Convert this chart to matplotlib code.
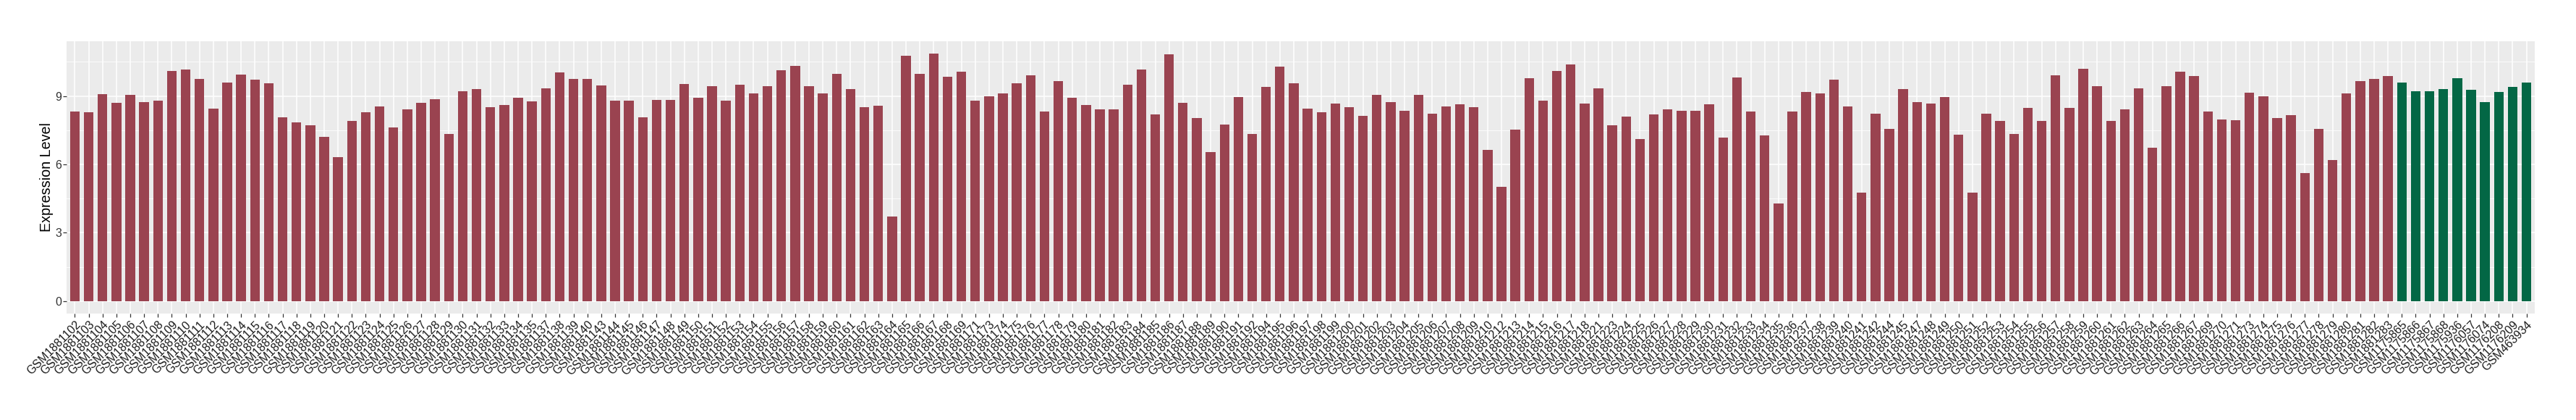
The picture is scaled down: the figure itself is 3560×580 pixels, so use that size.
import matplotlib
matplotlib.use("Agg")
import matplotlib.pyplot as plt
from matplotlib.ticker import MultipleLocator
from matplotlib.transforms import ScaledTranslation

plt.rcParams["font.family"] = ["Liberation Sans", "DejaVu Sans"]

samples = [
    "GSM1881102", "GSM1881103", "GSM1881104", "GSM1881105", "GSM1881106", "GSM1881107",
    "GSM1881108", "GSM1881109", "GSM1881110", "GSM1881111", "GSM1881112", "GSM1881113",
    "GSM1881114", "GSM1881115", "GSM1881116", "GSM1881117", "GSM1881118", "GSM1881119",
    "GSM1881120", "GSM1881121", "GSM1881122", "GSM1881123", "GSM1881124", "GSM1881125",
    "GSM1881126", "GSM1881127", "GSM1881128", "GSM1881129", "GSM1881130", "GSM1881131",
    "GSM1881132", "GSM1881133", "GSM1881134", "GSM1881135", "GSM1881137", "GSM1881138",
    "GSM1881139", "GSM1881140", "GSM1881143", "GSM1881144", "GSM1881145", "GSM1881146",
    "GSM1881147", "GSM1881148", "GSM1881149", "GSM1881150", "GSM1881151", "GSM1881152",
    "GSM1881153", "GSM1881154", "GSM1881155", "GSM1881156", "GSM1881157", "GSM1881158",
    "GSM1881159", "GSM1881160", "GSM1881161", "GSM1881162", "GSM1881163", "GSM1881164",
    "GSM1881165", "GSM1881166", "GSM1881167", "GSM1881168", "GSM1881169", "GSM1881171",
    "GSM1881173", "GSM1881174", "GSM1881175", "GSM1881176", "GSM1881177", "GSM1881178",
    "GSM1881179", "GSM1881180", "GSM1881181", "GSM1881182", "GSM1881183", "GSM1881184",
    "GSM1881185", "GSM1881186", "GSM1881187", "GSM1881188", "GSM1881189", "GSM1881190",
    "GSM1881191", "GSM1881192", "GSM1881194", "GSM1881195", "GSM1881196", "GSM1881197",
    "GSM1881198", "GSM1881199", "GSM1881200", "GSM1881201", "GSM1881202", "GSM1881203",
    "GSM1881204", "GSM1881205", "GSM1881206", "GSM1881207", "GSM1881208", "GSM1881209",
    "GSM1881210", "GSM1881212", "GSM1881213", "GSM1881214", "GSM1881215", "GSM1881216",
    "GSM1881217", "GSM1881218", "GSM1881221", "GSM1881223", "GSM1881224", "GSM1881225",
    "GSM1881226", "GSM1881227", "GSM1881228", "GSM1881229", "GSM1881230", "GSM1881231",
    "GSM1881232", "GSM1881233", "GSM1881234", "GSM1881235", "GSM1881236", "GSM1881237",
    "GSM1881238", "GSM1881239", "GSM1881240", "GSM1881241", "GSM1881242", "GSM1881244",
    "GSM1881245", "GSM1881247", "GSM1881248", "GSM1881249", "GSM1881250", "GSM1881251",
    "GSM1881252", "GSM1881253", "GSM1881254", "GSM1881255", "GSM1881256", "GSM1881257",
    "GSM1881258", "GSM1881259", "GSM1881260", "GSM1881261", "GSM1881262", "GSM1881263",
    "GSM1881264", "GSM1881265", "GSM1881266", "GSM1881267", "GSM1881269", "GSM1881270",
    "GSM1881271", "GSM1881273", "GSM1881274", "GSM1881275", "GSM1881276", "GSM1881277",
    "GSM1881278", "GSM1881279", "GSM1881280", "GSM1881281", "GSM1881282", "GSM1881283",
    "GSM1175865", "GSM1175866", "GSM1175867", "GSM1175868", "GSM1175936", "GSM1176057",
    "GSM1176074", "GSM1176208", "GSM1176209", "GSM463934",
]

expression = [
    8.32, 8.29, 9.08, 8.70, 9.05, 8.73, 8.79, 10.09, 10.15, 9.74, 8.44, 9.59, 9.94, 9.72,
    9.55, 8.06, 7.84, 7.71, 7.21, 6.31, 7.91, 8.29, 8.54, 7.62, 8.42, 8.70, 8.86,
    7.33, 9.21, 9.30, 8.51, 8.60, 8.92, 8.76, 9.33, 10.03, 9.75, 9.75, 9.46, 8.79, 8.79,
    8.06, 8.83, 8.83, 9.52, 8.92, 9.43, 8.79, 9.49, 9.11, 9.43, 10.13, 10.32, 9.43, 9.11,
    9.97, 9.30,
    8.51, 8.57, 3.71, 10.76, 9.97, 10.86, 9.84, 10.06, 8.79, 8.98, 9.11, 9.56, 9.90, 8.32,
    9.65, 8.92, 8.60, 8.41, 8.41, 9.49, 10.16, 8.19, 10.83, 8.70, 8.03, 6.54, 7.75, 8.95,
    7.33, 9.40,
    10.29, 9.56, 8.44, 8.29, 8.67, 8.51, 8.13, 9.05, 8.73, 8.35, 9.05, 8.22, 8.54, 8.63,
    8.51, 6.63, 5.02, 7.52, 9.78, 8.79, 10.10, 10.38, 8.67, 9.33, 7.71, 8.10, 7.11, 8.19,
    8.41, 8.35, 8.35,
    8.63, 7.17, 9.81, 8.32, 7.27, 4.29, 8.32, 9.17, 9.11, 9.71, 8.54, 4.76, 8.22, 7.56,
    9.30, 8.73, 8.67, 8.95, 7.30, 4.76, 8.22, 7.90, 7.33, 8.48, 7.90, 9.90, 8.48, 10.19,
    9.43, 7.90,
    8.41, 9.33, 6.73, 9.43, 10.06, 9.87, 8.32, 7.97, 7.94, 9.14, 8.98, 8.03, 8.16, 5.62,
    7.56, 6.19, 9.11, 9.65, 9.75, 9.87,
    9.59, 9.21, 9.21, 9.30, 9.78, 9.27, 8.73, 9.17, 9.40, 9.59,
]

n_group_a = 168
groups = ["A"] * n_group_a + ["B"] * (len(samples) - n_group_a)
group_colors = {"A": "#9A4350", "B": "#036745"}

y_ticks = [0, 3, 6, 9]
y_label = "Expression Level"

W, H = 3560, 580
fig = plt.figure(figsize=(W / 100, H / 100), dpi=100)
left, right, top, bottom = 92, 3503, 57, 433
ax = fig.add_axes([left / W, 1 - bottom / H, (right - left) / W, (bottom - top) / H])

x = list(range(len(samples)))
ax.bar(x, expression, width=0.7, color=[group_colors[g] for g in groups], zorder=3)

ymax = max(expression)
ax.set_ylim(-0.05 * ymax, ymax * 1.05)
ax.set_xlim(-0.6, len(samples) - 1 + 0.6)

ax.set_facecolor("#EBEBEB")
for s in ax.spines.values():
    s.set_visible(False)
ax.set_yticks(y_ticks)
ax.yaxis.set_minor_locator(MultipleLocator(1.5))
ax.grid(which="major", color="white", linewidth=1.1, zorder=0)
ax.grid(which="minor", axis="y", color="white", linewidth=0.55, zorder=0)
ax.set_axisbelow(True)

ax.set_xticks(x)
ax.set_xticklabels(samples, rotation=45, ha="right", va="top", rotation_mode="anchor",
                   fontsize=11.5, color="#1A1A1A")
shift = ScaledTranslation(4 / 100, 0, fig.dpi_scale_trans)
for lab in ax.get_xticklabels():
    lab.set_transform(lab.get_transform() + shift)
ax.tick_params(axis="x", length=3.5, width=0.9, color="#333333", pad=2)
ax.tick_params(axis="y", which="major", length=3.5, width=0.9, color="#333333",
               labelsize=11.5, labelcolor="#333333", pad=1.5)
ax.tick_params(axis="y", which="minor", length=0)

ax.set_ylabel(y_label, fontsize=14.2, color="black", labelpad=1.5)

fig.savefig("out.png", dpi=100, facecolor="white")
